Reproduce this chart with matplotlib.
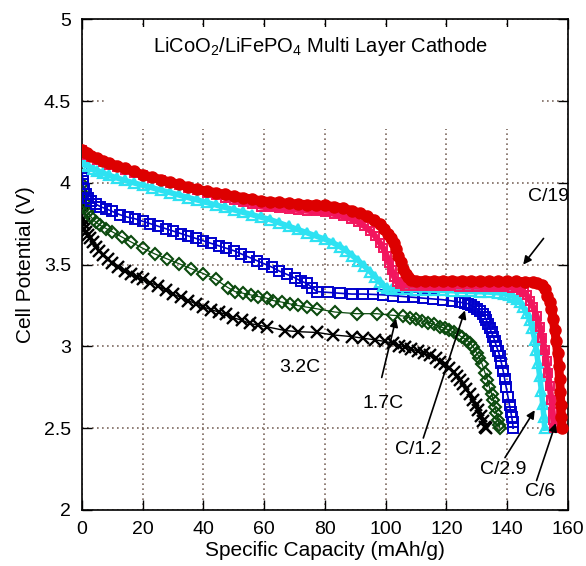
import numpy as np
import matplotlib
matplotlib.use("Agg")
import matplotlib.pyplot as plt
from matplotlib.patches import Rectangle

plt.rcParams['font.family'] = ['Liberation Sans', 'DejaVu Sans']
plt.rcParams['mathtext.fontset'] = 'custom'
plt.rcParams['mathtext.rm'] = 'Liberation Sans'
plt.rcParams['mathtext.it'] = 'Liberation Sans'

# discharge curves: (capacity mAh/g, cell potential V)
c19 = [(0, 4.20), (0.5, 4.19), (1.5, 4.18), (3, 4.165), (5, 4.15), (7, 4.135), (9, 4.12),
       (11.5, 4.105), (14, 4.09), (17, 4.07), (20, 4.05), (23, 4.035), (26, 4.02), (29, 4.005),
       (32, 3.99), (35, 3.975), (38, 3.96), (41, 3.95), (44, 3.94), (47, 3.93), (50, 3.92),
       (53, 3.91), (56, 3.90), (59, 3.89), (62, 3.885), (65, 3.88), (68, 3.875), (71, 3.87),
       (74, 3.867), (77, 3.865), (80, 3.862), (83, 3.855), (86, 3.845), (89, 3.83), (91.5, 3.815),
       (94, 3.795), (96, 3.775), (98, 3.75), (99.5, 3.72), (100.7, 3.69), (101.7, 3.66),
       (102.6, 3.63), (103.4, 3.595), (104.2, 3.555), (105, 3.515), (105.8, 3.475), (106.6, 3.445),
       (107.4, 3.425), (108.5, 3.405), (110, 3.402), (113, 3.402), (116, 3.401), (119, 3.401),
       (122, 3.40), (125, 3.40), (128, 3.40), (131, 3.399), (134, 3.399), (137, 3.398),
       (140, 3.398), (143, 3.397), (146, 3.396), (148.5, 3.394), (150, 3.39), (151.5, 3.375),
       (152.5, 3.35), (153.3, 3.31), (154, 3.27), (154.6, 3.23), (155.2, 3.17), (155.7, 3.10),
       (156.2, 3.03), (156.6, 2.96), (157, 2.88), (157.3, 2.80), (157.5, 2.72), (157.7, 2.64),
       (157.9, 2.57), (158.1, 2.50)]

c6 = [(0, 4.20), (0.5, 4.18), (1.5, 4.17), (3, 4.155), (5, 4.14), (7, 4.125), (9, 4.11),
      (11.5, 4.095), (14, 4.08), (17, 4.06), (20, 4.045), (23, 4.03), (26, 4.015), (29, 4.0),
      (32, 3.985), (35, 3.97), (38, 3.955), (41, 3.94), (44, 3.925), (47, 3.91), (50, 3.895),
      (53, 3.88), (56, 3.87), (59, 3.855), (62, 3.85), (65, 3.845), (68, 3.84), (71, 3.835),
      (74, 3.83), (77, 3.825), (80, 3.82), (83, 3.81), (86, 3.795), (88.5, 3.78), (91, 3.76),
      (93, 3.735), (95, 3.705), (96.5, 3.675), (98, 3.635), (99.2, 3.60), (100.3, 3.555),
      (101.2, 3.51), (102, 3.465), (102.8, 3.425), (103.6, 3.395), (104.8, 3.38), (106.5, 3.372),
      (109, 3.371), (112, 3.37), (115, 3.369), (118, 3.368), (121, 3.367), (124, 3.366),
      (127, 3.366), (130, 3.365), (133, 3.364), (136, 3.363), (139, 3.362), (141.5, 3.36),
      (143, 3.355), (144.5, 3.345), (145.5, 3.33), (146.4, 3.315), (147.5, 3.28), (148.6, 3.24),
      (149.7, 3.185), (150.8, 3.12), (151.6, 3.05), (152.4, 2.98), (153, 2.91), (153.5, 2.84),
      (154, 2.76), (154.6, 2.67), (155, 2.60), (155.2, 2.55), (155.4, 2.50)]

c29 = [(0, 4.17), (0.3, 4.14), (1, 4.11), (2, 4.10), (3.5, 4.085), (5, 4.075), (7, 4.06),
       (9, 4.045), (11.5, 4.03), (14, 4.015), (17, 4.0), (20, 3.985), (23, 3.97), (26, 3.955),
       (29, 3.94), (32, 3.925), (35, 3.91), (38, 3.895), (41, 3.88), (44, 3.865), (47, 3.85),
       (50, 3.835), (53, 3.82), (56, 3.805), (59, 3.79), (62, 3.775), (65, 3.755), (68, 3.735),
       (71, 3.715), (74, 3.695), (77, 3.675), (80, 3.655), (82.5, 3.635), (85, 3.61), (87, 3.585),
       (89, 3.555), (91, 3.525), (93, 3.49), (95, 3.455), (96.5, 3.425), (98, 3.395), (99.2, 3.37),
       (100.5, 3.355), (102, 3.35), (104, 3.35), (107, 3.348), (110, 3.346), (113, 3.345),
       (116, 3.343), (119, 3.342), (122, 3.34), (125, 3.338), (128, 3.336), (131, 3.334),
       (134, 3.332), (137, 3.328), (139, 3.322), (140.5, 3.315), (142, 3.305), (143.2, 3.29),
       (144.3, 3.27), (145.3, 3.24), (146.4, 3.205), (147.5, 3.16), (148.3, 3.11), (149.1, 3.04),
       (149.6, 2.98), (150.2, 2.90), (150.7, 2.82), (151.3, 2.73), (151.7, 2.65), (152.1, 2.57),
       (152.4, 2.50)]

c12 = [(0, 4.07), (0.2, 4.03), (0.4, 3.99), (0.7, 3.96), (1.2, 3.93), (2, 3.91), (3, 3.89),
       (4.5, 3.87), (6, 3.855), (8, 3.84), (10, 3.825), (12.5, 3.805), (15, 3.79), (17.5, 3.78),
       (20, 3.765), (22.5, 3.75), (25, 3.735), (27.5, 3.72), (30, 3.705), (32.5, 3.69),
       (35, 3.675), (37.5, 3.66), (40, 3.645), (42.5, 3.63), (45, 3.615), (47.5, 3.60),
       (50, 3.585), (52.5, 3.565), (55, 3.545), (57.5, 3.525), (60, 3.505), (62.5, 3.485),
       (65, 3.46), (67.5, 3.44), (70, 3.42), (72, 3.40), (74, 3.385), (75.8, 3.36), (77.3, 3.335),
       (81.1, 3.33), (84.9, 3.325), (88.8, 3.32), (92.6, 3.32), (95.9, 3.318), (99.2, 3.315),
       (102.5, 3.31), (105.8, 3.305), (109.2, 3.30), (112.4, 3.295), (115.7, 3.29), (119, 3.285),
       (121.8, 3.278), (124.4, 3.27), (126, 3.265), (127.2, 3.26), (128.2, 3.25), (129.2, 3.24),
       (130.2, 3.23), (131.1, 3.215), (132.1, 3.20), (132.7, 3.18), (133.2, 3.16), (133.8, 3.135),
       (134.3, 3.11), (134.9, 3.085), (135.4, 3.06), (135.9, 3.035), (136.5, 3.0), (137.1, 2.97),
       (137.6, 2.94), (138.1, 2.90), (138.7, 2.85), (139.2, 2.80), (139.7, 2.75), (140.3, 2.69),
       (140.8, 2.64), (141.2, 2.60), (141.5, 2.57), (141.8, 2.535), (142, 2.50)]

c17 = [(0, 3.99), (0.3, 3.93), (0.6, 3.88), (1, 3.85), (2, 3.82), (3, 3.79), (4.5, 3.76),
       (6, 3.74), (8, 3.72), (10, 3.70), (13, 3.67), (16, 3.64), (20, 3.60), (24, 3.565),
       (28, 3.535), (32, 3.505), (36, 3.475), (40, 3.445), (44, 3.41), (48, 3.36), (50.4, 3.335),
       (53, 3.325), (55.5, 3.315), (58, 3.305), (60.8, 3.295), (63, 3.28), (66, 3.27),
       (68.5, 3.26), (71, 3.25), (74, 3.24), (77.3, 3.23), (83.3, 3.21), (90.4, 3.20), (97, 3.20),
       (102.3, 3.19), (105.8, 3.186), (108, 3.175), (110, 3.165), (112, 3.155), (114, 3.145),
       (116, 3.135), (118, 3.12), (119.5, 3.11), (121, 3.10), (122.5, 3.085), (124, 3.07),
       (125.3, 3.055), (126.6, 3.04), (127.8, 3.02), (128.9, 2.995), (130, 2.96), (130.9, 2.93),
       (131.8, 2.89), (132.7, 2.84), (133.5, 2.795), (134.2, 2.75), (134.9, 2.71), (135.5, 2.67),
       (136, 2.63), (136.5, 2.59), (137, 2.55), (137.4, 2.52), (137.6, 2.50)]

c32 = [(0, 3.93), (0.1, 3.87), (0.2, 3.82), (0.3, 3.78), (0.5, 3.75), (0.8, 3.72), (1.2, 3.70),
       (1.8, 3.68), (2.6, 3.66), (3.5, 3.64), (4.5, 3.61), (5.7, 3.585), (7, 3.56), (8.5, 3.535),
       (10, 3.51), (12, 3.485), (14, 3.46), (16, 3.44), (18, 3.425), (20, 3.41), (22.5, 3.39),
       (25, 3.37), (27.5, 3.345), (30, 3.32), (32.5, 3.30), (35, 3.28), (37.5, 3.26), (40, 3.24),
       (42.5, 3.225), (45, 3.21), (47.5, 3.195), (49.8, 3.175), (52.6, 3.16), (55.3, 3.14),
       (58, 3.13), (60.8, 3.12), (66.8, 3.097), (71.2, 3.09), (77.5, 3.085), (82.7, 3.07),
       (88.8, 3.06), (92.6, 3.05), (96.5, 3.04), (99.8, 3.03), (102.5, 3.02), (104.5, 3.005),
       (106.5, 2.995), (108.5, 2.985), (110.5, 2.97), (112.5, 2.96), (114.5, 2.945), (116.5, 2.93),
       (118, 2.905), (119.5, 2.89), (121, 2.87), (122.4, 2.845), (123.6, 2.82), (124.6, 2.795),
       (125.6, 2.77), (126.6, 2.74), (127.7, 2.71), (128.7, 2.675), (129.6, 2.64), (130.5, 2.61),
       (131.3, 2.575), (132, 2.545), (132.7, 2.51), (133.1, 2.50)]

fig = plt.figure(figsize=(5.86, 5.66), dpi=100)
ax = fig.add_axes([0.140, 0.099, 0.829, 0.867])

def draw(data, color, marker, ms, lw, mfc='none', mew=1.0):
    d = np.array(data).T
    ax.plot(d[0], d[1], color=color, lw=lw, marker=marker, ms=ms,
            mfc=mfc, mec=color, mew=mew, zorder=3)

draw(c32, 'black', 'x', 8, 1.0, mew=1.7)
draw(c17, '#0b4a0e', 'D', 6, 0.9, mew=1.5)
draw(c12, '#0000cc', 's', 7.5, 1.2, mew=1.4)
draw(c29, '#2ee2f2', '^', 7.5, 4, mew=1.6)
draw(c6, '#f2165e', 's', 6, 4.5, mew=1.4)
draw(c19, '#dd0000', 'o', 8, 6.5, mfc='#dd0000')

ax.set_xlim(0, 160)
ax.set_ylim(2, 5)
ax.set_xticks(np.arange(0, 161, 20))
ax.set_yticks([2, 2.5, 3, 3.5, 4, 4.5, 5])
ax.set_yticklabels(['2', '2.5', '3', '3.5', '4', '4.5', '5'])
ax.tick_params(direction='in', length=7, width=1, top=True, right=True,
               labelsize=14, pad=8)
ax.set_axisbelow(True)
ax.grid(True, linestyle=(0, (1, 2)), color='#7d6a60', linewidth=1.2)
for s in ax.spines.values():
    s.set_linewidth(1.2)

# blank panel behind the heading
ax.add_patch(Rectangle((8, 4.33), 142.8, 0.62, facecolor='white', edgecolor='none', zorder=1))
ax.text(78.5, 4.835, 'LiCoO$_2$/LiFePO$_4$ Multi Layer Cathode', ha='center', va='center',
        fontsize=14.5, zorder=4)

ax.set_xlabel('Specific Capacity (mAh/g)', fontsize=15, labelpad=2)
ax.set_ylabel('Cell Potential (V)', fontsize=15, labelpad=6)

arrow = dict(arrowstyle='-|>', color='black', lw=1.2, mutation_scale=12, shrinkA=0, shrinkB=0)
labels = [('C/19', (153.7, 3.915), (152.0, 3.66), (145.3, 3.50)),
          ('1.7C', (99.2, 2.65), (98.7, 2.81), (103.4, 3.17)),
          ('C/1.2', (110.7, 2.37), (112.4, 2.44), (126.1, 3.22)),
          ('C/2.9', (138.7, 2.245), (139.3, 2.32), (149.1, 2.61)),
          ('C/6', (150.8, 2.11), (149.7, 2.18), (156.0, 2.53))]
for txt, pos, tail, head in labels:
    ax.text(pos[0], pos[1], txt, ha='center', va='center', fontsize=14, zorder=5)
    ax.annotate('', xy=head, xytext=tail, arrowprops=arrow, zorder=5)
ax.text(71.8, 2.87, '3.2C', ha='center', va='center', fontsize=14, zorder=5)

fig.savefig('out.png', dpi=100)
